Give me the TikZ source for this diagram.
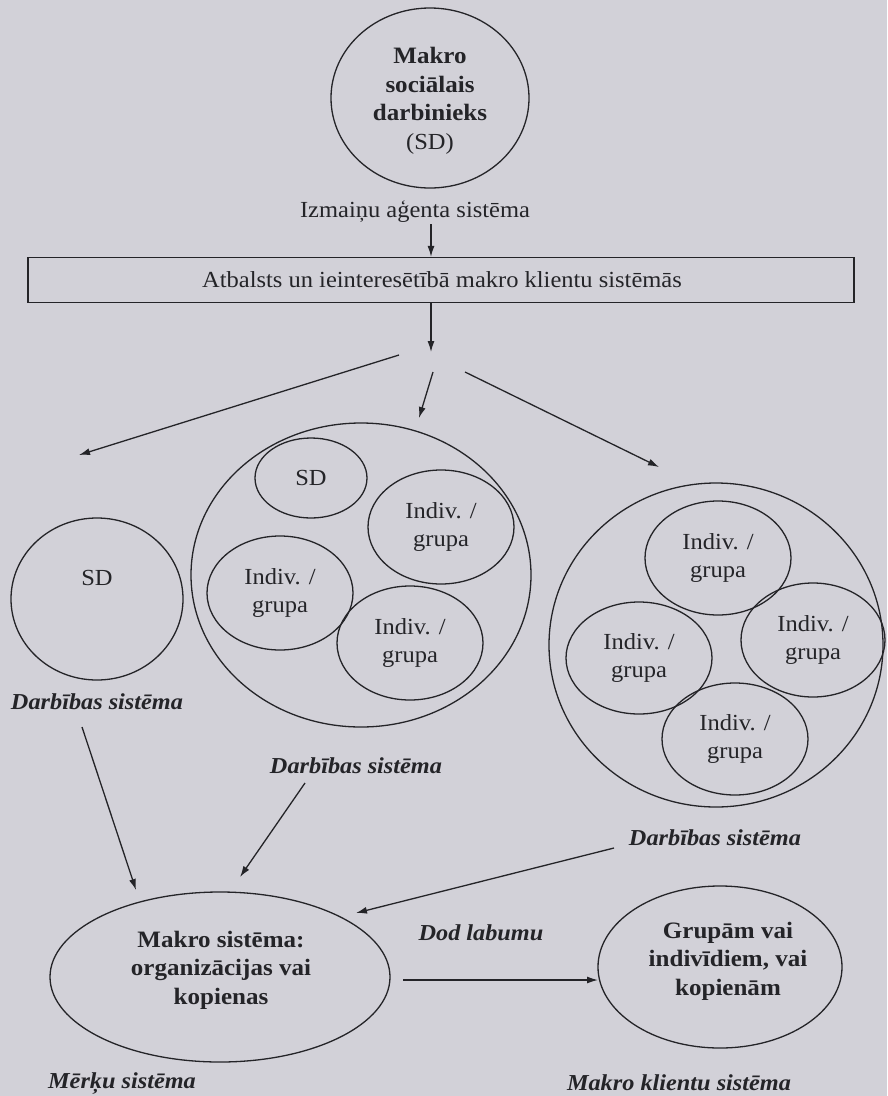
\documentclass[tikz,border=0pt]{standalone}
\usepackage{fontspec}
\setmainfont{Liberation Serif}[FakeStretch=1.065]
\usetikzlibrary{shapes.geometric,arrows.meta}
\definecolor{bg}{RGB}{210,209,216}
\definecolor{ink}{RGB}{36,36,40}
\tikzset{
  ell/.style={draw=ink, ellipse, inner sep=0pt, line width=1.3pt},
  reg/.style={text=ink, inner sep=0pt, align=center, font=\fontsize{23}{28.5}\selectfont},
  bld/.style={text=ink, inner sep=0pt, align=center, font=\fontsize{23.5}{28.5}\selectfont\bfseries},
  lab/.style={text=ink, inner sep=0pt, align=center, font=\fontsize{22.8}{28.5}\selectfont\bfseries\itshape},
  arr/.style={draw=ink, line width=1.3pt, -{Latex[length=11pt,width=7pt]}}
}
\begin{document}
\begin{tikzpicture}[x=1pt,y=-1pt]
\fill[bg] (0,0) rectangle (887,1096);
\useasboundingbox (0,0) rectangle (887,1096);
% top
\node[ell, minimum width=198pt, minimum height=180pt] (msd) at (430,98) {};
\node[reg] (msdt) at (430,101) {\textbf{\fontsize{23.5}{28.5}\selectfont Makro}\\\textbf{\fontsize{23.5}{28.5}\selectfont sociālais}\\\textbf{\fontsize{23.5}{28.5}\selectfont darbinieks}\\(SD)};
\node[reg] (izm) at (415,212) {Izmaiņu aģenta sistēma};
\node[draw=ink, line width=1.3pt, minimum width=826pt, minimum height=45pt, inner sep=0pt] (box) at (441,280) {};
\node[reg] (boxt) at (442,280) {Atbalsts un ieinteresētībā makro klientu sistēmās};
\coordinate (izmtop) at (431,224);
\coordinate (hub) at (431,352);
\draw[arr] (izmtop) -- (box.north -| izmtop);
\draw[arr] (box.south -| hub) -- (hub);
% three arrows
\coordinate (la1) at (399,355); \coordinate (la2) at (79,455);
\coordinate (ma1) at (433,372); \coordinate (ma2) at (419,418);
\coordinate (ra1) at (465,372); \coordinate (ra2) at (659,467);
\draw[arr] (la1) -- (la2);
\draw[arr] (ma1) -- (ma2);
\draw[arr] (ra1) -- (ra2);
% left SD
\node[ell, minimum width=172pt, minimum height=162pt] (lsd) at (97,599) {};
\node[reg] (lsdt) at (97,578) {SD};
\node[lab] (dl) at (97,702) {Darbības sistēma};
% middle
\node[ell, minimum width=340pt, minimum height=304pt] (mbig) at (361,575) {};
\node[ell, minimum width=112pt, minimum height=80pt, reg] (msd2) at (311,478) {SD};
\node[ell, minimum width=146pt, minimum height=114pt, reg] (mA) at (441,527) {Indiv. /\\grupa};
\node[ell, minimum width=146pt, minimum height=114pt, reg] (mB) at (280,593) {Indiv. /\\grupa};
\node[ell, minimum width=146pt, minimum height=114pt, reg] (mC) at (410,643) {Indiv. /\\grupa};
\node[lab] (dm) at (356,766) {Darbības sistēma};
% right
\node[ell, minimum width=334pt, minimum height=324pt] (rbig) at (716,645) {};
\node[ell, minimum width=146pt, minimum height=114pt, reg] (rA) at (718,558) {Indiv. /\\grupa};
\node[ell, minimum width=146pt, minimum height=112pt, reg] (rB) at (639,658) {Indiv. /\\grupa};
\node[ell, minimum width=144pt, minimum height=114pt, reg] (rC) at (813,640) {Indiv. /\\grupa};
\node[ell, minimum width=146pt, minimum height=112pt, reg] (rD) at (735,739) {Indiv. /\\grupa};
\node[lab] (dr) at (715,838) {Darbības sistēma};
% bottom
\node[ell, minimum width=340pt, minimum height=170pt] (tgt) at (220,977) {};
\node[bld] (tgtt) at (221,970) {Makro sistēma:\\organizācijas vai\\kopienas};
\node[ell, minimum width=244pt, minimum height=162pt] (cli) at (720,967) {};
\node[bld] (clit) at (728,961) {Grupām vai\\indivīdiem, vai\\kopienām};
\node[lab] (dod) at (481,933) {Dod labumu};
\node[lab] (mer) at (122,1083) {Mērķu sistēma};
\node[lab] (mkl) at (679,1083) {Makro klientu sistēma};
% lower arrows
\coordinate (a1s) at (82,727); \coordinate (a1e) at (136,890);
\coordinate (a2s) at (305,783); \coordinate (a2e) at (240,877);
\coordinate (a3s) at (614,848); \coordinate (a3e) at (356,913);
\coordinate (a4s) at (403,980); \coordinate (a4e) at (598,980);
\draw[arr] (a1s) -- (a1e);
\draw[arr] (a2s) -- (a2e);
\draw[arr] (a3s) -- (a3e);
\draw[arr] (a4s) -- (a4e);
\end{tikzpicture}
\end{document}
